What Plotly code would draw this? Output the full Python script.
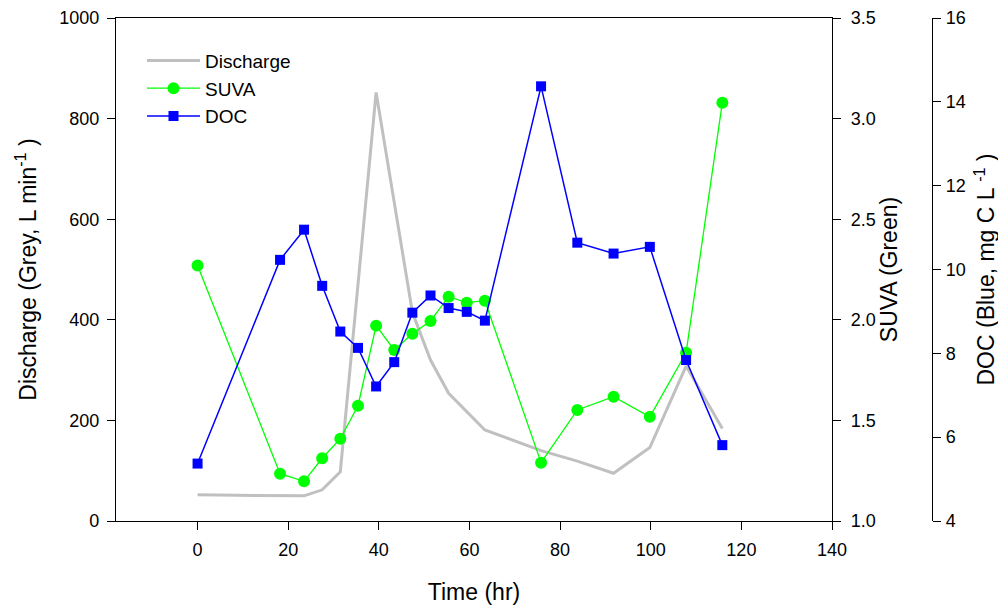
import plotly.graph_objects as go

# Data
q_time = [0, 18.2, 23.5, 27.5, 31.5, 39.4, 47.4, 51.4, 55.4, 63.4, 75.8, 83.8, 91.8, 99.8, 107.8, 115.8]
discharge = [52, 50, 50, 62, 98, 852, 415, 320, 254, 181, 140, 119, 95, 146, 308, 184]

s_time = [0, 18.2, 23.5, 27.5, 31.5, 35.4, 39.4, 43.4, 47.4, 51.4, 55.4, 59.4, 63.4, 75.8, 83.8, 91.8, 99.8, 107.8, 115.8]
suva = [2.27, 1.235, 1.197, 1.312, 1.409, 1.573, 1.971, 1.850, 1.931, 1.994, 2.115, 2.085, 2.095,
        1.290, 1.552, 1.618, 1.518, 1.836, 3.079]
doc = [5.37, 10.23, 10.95, 9.61, 8.52, 8.13, 7.21, 7.79, 8.97, 9.38, 9.08, 8.99, 8.78,
       14.37, 10.64, 10.38, 10.54, 7.84, 5.81]

FONT = "Liberation Sans, Arial, sans-serif"

fig = go.Figure()
fig.add_trace(go.Scatter(x=q_time, y=discharge, name="Discharge", mode="lines", legendgroup="a",
                         line=dict(color="#c0c0c0", width=3), yaxis="y"))
fig.add_trace(go.Scatter(x=s_time, y=suva, name="SUVA", mode="lines+markers", legendgroup="b",
                         line=dict(color="#00ff00", width=1.3),
                         marker=dict(symbol="circle", size=12, color="#00ff00"), yaxis="y2"))
fig.add_trace(go.Scatter(x=s_time, y=doc, name="DOC", mode="lines+markers", legendgroup="c",
                         line=dict(color="#0000ff", width=1.5),
                         marker=dict(symbol="square", size=10, color="#0000ff"), yaxis="y3"))

# page body adds an 8px offset; compensate so the plot lands where the reference has it
OFF = 8
W, H = 1006 - OFF, 612 - OFF
L, R, T = 116 - OFF, 22, 18 - OFF
B = H - T - 503
area = W - L - R
xend = (832 - OFF - L) / area
docpos = (932 - OFF - L) / area

axcommon = dict(showgrid=False, zeroline=False, showline=True, linecolor="black", linewidth=1.3,
                ticks="outside", ticklen=8, tickwidth=1.3, tickcolor="black", automargin=False,
                tickfont=dict(family=FONT, size=18, color="black"))

fig.update_layout(
    width=W, height=H,
    margin=dict(l=L, r=R, t=T, b=B),
    paper_bgcolor="white", plot_bgcolor="white",
    font=dict(family=FONT, color="black"),
    showlegend=True,
    legend=dict(x=(142 - OFF - L) / area, y=0.953, xanchor="left", yanchor="top", bgcolor="rgba(0,0,0,0)",
                tracegroupgap=0, itemwidth=53,
                font=dict(family=FONT, size=19, color="black")),
    xaxis=dict(domain=[0, xend], range=[-18, 140], tickvals=[0, 20, 40, 60, 80, 100, 120, 140],
               mirror=True, ticklabelstandoff=4,
               title=dict(text="Time (hr)", font=dict(family=FONT, size=23), standoff=25),
               **axcommon),
    yaxis=dict(range=[0, 1000], tickvals=[0, 200, 400, 600, 800, 1000], ticklabelstandoff=4,
               title=dict(text="Discharge (Grey, L min<sup>-1</sup> )", font=dict(family=FONT, size=23),
                          standoff=16),
               **axcommon),
    yaxis2=dict(overlaying="y", side="right", anchor="x", range=[1.0, 3.5], ticklabelstandoff=6,
                tickvals=[1.0, 1.5, 2.0, 2.5, 3.0, 3.5], tickformat=".1f",
                title=dict(text="SUVA (Green)", font=dict(family=FONT, size=23), standoff=0),
                **axcommon),
    yaxis3=dict(overlaying="y", side="right", anchor="free", position=docpos, range=[4, 16],
                tickvals=[4, 6, 8, 10, 12, 14, 16], ticklabelstandoff=1,
                title=dict(text="DOC (Blue, mg C L <sup>-1</sup> )", font=dict(family=FONT, size=23),
                           standoff=13),
                **axcommon),
)

fig.write_html("out.html")
